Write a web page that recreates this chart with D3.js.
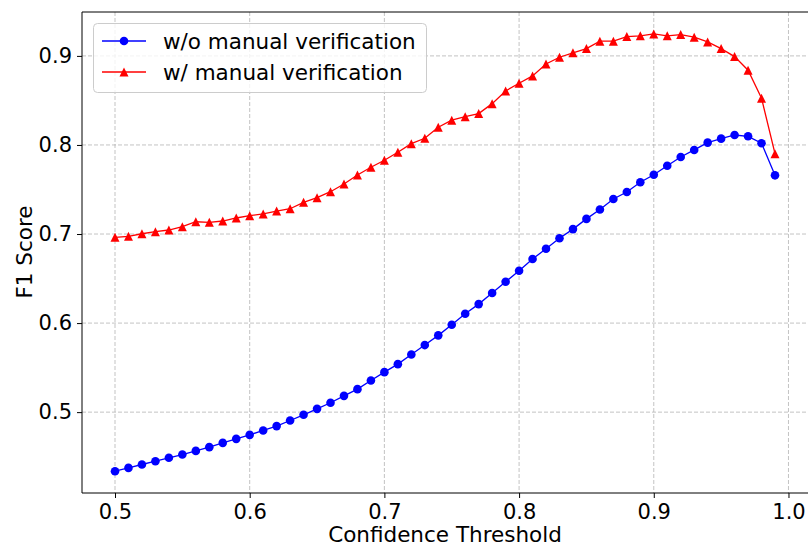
<!DOCTYPE html>
<html>
<head>
<meta charset="utf-8">
<script src="https://cdn.jsdelivr.net/npm/d3@7"></script>
<style>
  html, body { margin: 0; padding: 0; background: #fff; }
  svg { display: block; font-family: "DejaVu Sans", sans-serif; }
</style>
</head>
<body>
<svg id="chart" width="808" height="548"></svg>
<script>
const thresholds = [0.50,0.51,0.52,0.53,0.54,0.55,0.56,0.57,0.58,0.59,
  0.60,0.61,0.62,0.63,0.64,0.65,0.66,0.67,0.68,0.69,
  0.70,0.71,0.72,0.73,0.74,0.75,0.76,0.77,0.78,0.79,
  0.80,0.81,0.82,0.83,0.84,0.85,0.86,0.87,0.88,0.89,
  0.90,0.91,0.92,0.93,0.94,0.95,0.96,0.97,0.98,0.99];

const f1WithoutVerification = [0.4337,0.4374,0.4412,0.4449,0.4487,0.4524,0.4565,0.4607,0.4655,0.4700,
  0.4745,0.4794,0.4843,0.4906,0.4970,0.5037,0.5105,0.5183,0.5258,0.5356,
  0.5449,0.5539,0.5648,0.5753,0.5862,0.5981,0.6105,0.6213,0.6337,0.6464,
  0.6588,0.6719,0.6835,0.6952,0.7055,0.7170,0.7275,0.7393,0.7472,0.7581,
  0.7666,0.7767,0.7865,0.7944,0.8026,0.8071,0.8112,0.8097,0.8019,0.7659];

const f1WithVerification = [0.6963,0.6974,0.7003,0.7026,0.7045,0.7082,0.7138,0.7131,0.7146,0.7180,
  0.7206,0.7225,0.7258,0.7284,0.7356,0.7408,0.7475,0.7562,0.7663,0.7750,
  0.7828,0.7918,0.8015,0.8075,0.8199,0.8278,0.8318,0.8352,0.8464,0.8607,
  0.8693,0.8775,0.8910,0.8985,0.9035,0.9082,0.9165,0.9165,0.9217,0.9225,
  0.9247,0.9225,0.9240,0.9210,0.9157,0.9082,0.8992,0.8839,0.8525,0.7902];

const seriesNames = ["w/o manual verification", "w/ manual verification"];
const xTicks = [0.5, 0.6, 0.7, 0.8, 0.9, 1.0];
const yTicks = [0.5, 0.6, 0.7, 0.8, 0.9];
const xLabel = "Confidence Threshold";
const yLabel = "F1 Score";

const svg = d3.select("#chart");
const L = 82, R = 808, T = 12, B = 493;

const x = d3.scaleLinear().domain([0.4755, 1.0145]).range([L, R]);
const y = d3.scaleLinear().domain([0.4092, 0.9493]).range([B, T]);

// grid
const grid = svg.append("g");
grid.selectAll("line.gx").data(xTicks).join("line")
  .attr("x1", d => x(d)).attr("x2", d => x(d)).attr("y1", T).attr("y2", B)
  .attr("stroke", "#b0b0b0").attr("stroke-opacity", 0.85).attr("stroke-width", 0.9)
  .attr("stroke-dasharray", "4,2");
grid.selectAll("line.gy").data(yTicks).join("line")
  .attr("y1", d => y(d)).attr("y2", d => y(d)).attr("x1", L).attr("x2", R)
  .attr("stroke", "#b0b0b0").attr("stroke-opacity", 0.85).attr("stroke-width", 0.9)
  .attr("stroke-dasharray", "4,2");

// axes
const xAxis = d3.axisBottom(x).tickValues(xTicks).tickFormat(d3.format(".1f")).tickSizeOuter(0).tickSize(5).tickPadding(6);
const yAxis = d3.axisLeft(y).tickValues(yTicks).tickFormat(d3.format(".1f")).tickSizeOuter(0).tickSize(5).tickPadding(5);
const gx = svg.append("g").attr("transform", `translate(0,${B})`).call(xAxis);
const gy = svg.append("g").attr("transform", `translate(${L},0)`).call(yAxis);
[gx, gy].forEach(g => {
  g.select(".domain").remove();
  g.selectAll(".tick line").attr("stroke", "#000").attr("stroke-width", 1);
  g.selectAll(".tick text").attr("fill", "#000").style("font-size", "21px").style("font-family", "DejaVu Sans");
});

// lines
const mk = (vals) => thresholds.map((t, i) => ({x: t, y: vals[i]}));
const dataA = mk(f1WithoutVerification);
const dataB = mk(f1WithVerification);
const line = d3.line().x(d => x(d.x)).y(d => y(d.y));

svg.append("path").datum(dataA).attr("d", line).attr("fill", "none").attr("stroke", "#0000ff").attr("stroke-width", 1.3);
svg.selectAll("circle.a").data(dataA).join("circle")
  .attr("cx", d => x(d.x)).attr("cy", d => y(d.y)).attr("r", 4.3).attr("fill", "#0000ff");

svg.append("path").datum(dataB).attr("d", line).attr("fill", "none").attr("stroke", "#ff0000").attr("stroke-width", 1.3);
const tri = (s) => `M0,${-s}L${s},${s}L${-s},${s}Z`;
svg.selectAll("path.b").data(dataB).join("path")
  .attr("d", tri(4.5)).attr("transform", d => `translate(${x(d.x)},${y(d.y)})`).attr("fill", "#ff0000");

// spines
svg.append("line").attr("x1", L).attr("x2", L).attr("y1", T).attr("y2", B).attr("stroke", "#000").attr("stroke-width", 1);
svg.append("line").attr("x1", L).attr("x2", R).attr("y1", B).attr("y2", B).attr("stroke", "#000").attr("stroke-width", 1);
svg.append("line").attr("x1", L).attr("x2", R).attr("y1", T).attr("y2", T).attr("stroke", "#000").attr("stroke-width", 1);

// labels
svg.append("text").attr("x", 445).attr("y", 542).attr("text-anchor", "middle")
  .style("font-size", "21.5px").text(xLabel);
svg.append("text").attr("transform", "translate(32,252) rotate(-90)").attr("text-anchor", "middle")
  .style("font-size", "21.5px").text(yLabel);

// legend
const lg = svg.append("g");
lg.append("rect").attr("x", 93.5).attr("y", 23.5).attr("width", 333).attr("height", 69).attr("rx", 4)
  .attr("fill", "#fff").attr("fill-opacity", 0.8).attr("stroke", "#cccccc").attr("stroke-width", 1);
const rows = [{name: seriesNames[0], color: "#0000ff", yy: 41, shape: "circle"},
              {name: seriesNames[1], color: "#ff0000", yy: 72, shape: "tri"}];
rows.forEach(r => {
  lg.append("line").attr("x1", 102).attr("x2", 146).attr("y1", r.yy).attr("y2", r.yy).attr("stroke", r.color).attr("stroke-width", 1.3);
  if (r.shape === "circle") lg.append("circle").attr("cx", 124).attr("cy", r.yy).attr("r", 4.3).attr("fill", r.color);
  else lg.append("path").attr("d", tri(4.5)).attr("transform", `translate(124,${r.yy})`).attr("fill", r.color);
  lg.append("text").attr("x", 163).attr("y", r.yy).attr("dy", "0.36em").style("font-size", "21.5px").text(r.name);
});
</script>
</body>
</html>
